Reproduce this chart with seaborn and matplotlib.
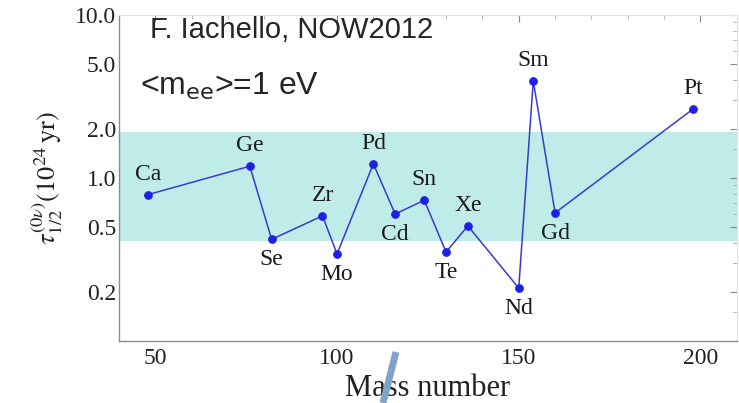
import matplotlib
matplotlib.use("Agg")
import matplotlib.pyplot as plt
import matplotlib.ticker as mticker
from matplotlib.lines import Line2D
import seaborn as sns
import pandas as pd

elements = ["Ca", "Ge", "Se", "Zr", "Mo", "Pd", "Cd", "Sn", "Te", "Xe", "Nd", "Sm", "Gd", "Pt"]
mass = [48, 76, 82, 96, 100, 110, 116, 124, 130, 136, 150, 154, 160, 198]
halflife = [0.79, 1.18, 0.42, 0.585, 0.342, 1.22, 0.60, 0.73, 0.351, 0.508, 0.211, 3.94, 0.61, 2.65]
label_above = [True, True, False, True, False, True, False, True, False, True, False, True, False, True]
band = (0.41, 1.9)
yticks = [0.2, 0.5, 1.0, 2.0, 5.0, 10.0]
xticks = [50, 100, 150, 200]

df = pd.DataFrame({"A": mass, "t": halflife, "el": elements})

sns.set_style("white")
plt.rcParams["font.family"] = ["Liberation Serif", "DejaVu Serif"]
plt.rcParams["mathtext.fontset"] = "stix"

fig = plt.figure(figsize=(7.39, 4.03), dpi=100)
ax = fig.add_axes([0.161, 0.154, 0.836, 0.809])

ax.axhspan(band[0], band[1], color="#bfece8", zorder=0, lw=0)
sns.lineplot(data=df, x="A", y="t", ax=ax, color="#3a3ad0", lw=1.1,
             marker="o", markersize=5.5, markerfacecolor="#1f1fe6",
             markeredgecolor="#1f1fe6", sort=False, zorder=3)

for el, a, t, up in zip(elements, mass, halflife, label_above):
    dy = 7 if up else -7
    ax.annotate(el, (a, t), xytext=(0, dy), textcoords="offset points",
                ha="center", va="bottom" if up else "top", fontsize=17,
                color="#1a1a1a")

ax.set_yscale("log")
ax.set_xlim(40, 210)
ax.set_ylim(0.1, 10)
ax.set_yticks(yticks)
ax.yaxis.set_major_formatter(mticker.FuncFormatter(lambda v, p: f"{v:.1f}"))
ax.yaxis.set_minor_locator(mticker.LogLocator(base=10, subs=[0.3, 0.4, 0.6, 0.7, 0.8, 0.9, 1.5, 3, 4]))
ax.yaxis.set_minor_formatter(mticker.NullFormatter())
ax.set_xticks(xticks)
ax.xaxis.set_minor_locator(mticker.MultipleLocator(10))

ax.tick_params(axis="both", which="major", direction="in", length=5, width=0.8,
               color="#888888", labelsize=17, labelcolor="#222222",
               top=True, right=True, pad=2)
ax.tick_params(axis="x", which="major", pad=5)
ax.tick_params(axis="both", which="minor", direction="in", length=3, width=0.6,
               color="#aaaaaa", top=True, right=True)

for side in ["left", "bottom"]:
    ax.spines[side].set_color("#8c8c8c")
    ax.spines[side].set_linewidth(1.0)
for side in ["top", "right"]:
    ax.spines[side].set_color("#e4e4e4")
    ax.spines[side].set_linewidth(0.8)

ax.set_xlabel("Mass number", fontsize=22, color="#222222", labelpad=4)
ax.set_ylabel(r"$\tau_{1/2}^{(0\nu)}(10^{24}\,\mathrm{yr})$", fontsize=19,
              color="#222222", labelpad=7)

fig.text(150 / 739, 1 - 30 / 403, "F. Iachello, NOW2012", fontsize=21,
         family=["Liberation Sans", "DejaVu Sans"], va="center", ha="left")
fig.text(140 / 739, 1 - 86 / 403, r"<m$_{\rm ee}$>=1 eV", fontsize=23,
         family=["Liberation Sans", "DejaVu Sans"], va="center", ha="left",
         math_fontfamily="dejavusans")

fig.add_artist(Line2D([396 / 739, 383 / 739], [1 - 352 / 403, 0.0],
                      transform=fig.transFigure, color="#7fa4c7", lw=5,
                      solid_capstyle="butt"))

fig.savefig("out.png", dpi=100)
